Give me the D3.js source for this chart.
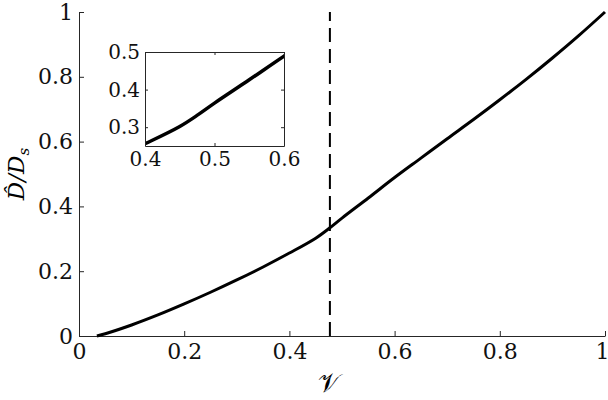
<!DOCTYPE html>
<html><head><meta charset="utf-8">
<script src="https://cdn.jsdelivr.net/npm/d3@7"></script>
<style>body{margin:0;background:#fff}</style>
</head><body>
<svg id="c" width="608" height="400"></svg>
<script>
const nu = [0.034,0.05,0.1,0.15,0.2,0.25,0.3,0.35,0.4,0.45,0.477,0.5,0.55,0.6,0.65,0.7,0.75,0.8,0.85,0.9,0.95,1.0];
const ratio = [0,0.007,0.034,0.065,0.099,0.135,0.173,0.213,0.256,0.302,0.334,0.364,0.426,0.489,0.549,0.609,0.668,0.729,0.792,0.858,0.927,1.0];
const critical = 0.477;
const xTicks = [0,0.2,0.4,0.6,0.8,1];
const yTicks = [0,0.2,0.4,0.6,0.8,1];
const insetXTicks = [0.4,0.5,0.6];
const insetYTicks = [0.3,0.4,0.5];

const svg = d3.select("#c");
const font = "DejaVu Serif";
const axCol = "#262626";
const x = d3.scaleLinear().domain([0,1]).range([79,605]);
const y = d3.scaleLinear().domain([0,1]).range([336,12]);

const fmt = d => d===0?"0":d===1?"1":d3.format(".1f")(d);

const gx = svg.append("g").attr("transform","translate(0,336)")
  .call(d3.axisBottom(x).tickValues(xTicks).tickFormat(fmt).tickSizeInner(-5).tickSizeOuter(0).tickPadding(7));
const gy = svg.append("g").attr("transform","translate(79,0)")
  .call(d3.axisLeft(y).tickValues(yTicks).tickFormat(fmt).tickSizeInner(-5).tickSizeOuter(0).tickPadding(6));
[gx,gy].forEach(g=>{
  g.attr("font-family",font).attr("font-size",22);
  g.select(".domain").attr("stroke",axCol).attr("stroke-width",1);
  g.selectAll(".tick line").attr("stroke",axCol);
  g.selectAll(".tick text").attr("fill","#111");
});
gx.selectAll(".tick text").filter(d=>d===1).attr("dx",-3);

const line = d3.line().x((d,i)=>x(nu[i])).y(d=>y(d)).curve(d3.curveCatmullRom.alpha(0.5));
svg.append("path").datum(ratio).attr("d",line).attr("fill","none").attr("stroke","#000").attr("stroke-width",3);

svg.append("line").attr("x1",x(critical)).attr("x2",x(critical)).attr("y1",y(0)).attr("y2",y(1))
  .attr("stroke","#000").attr("stroke-width",2).attr("stroke-dasharray","14,7");

// axis labels
svg.append("text").attr("x",x(0.475)).attr("y",392).attr("text-anchor","middle")
  .attr("font-family",font).attr("font-size",26).text("𝒱");
const yl = svg.append("text").attr("transform","translate(24,174) rotate(-90)").attr("text-anchor","middle")
  .attr("font-family",font).attr("font-size",23).attr("font-style","italic");
yl.append("tspan").text("D̂/D");
yl.append("tspan").attr("dy",5).attr("font-size",15).text("s");

// inset
const ix = d3.scaleLinear().domain([0.4,0.6]).range([145,284]);
const iy = d3.scaleLinear().domain([0.25,0.5]).range([146,52]);
const ins = svg.append("g");
ins.append("rect").attr("x",145).attr("y",52).attr("width",139).attr("height",94).attr("fill","#fff");
svg.append("clipPath").attr("id","ic").append("rect").attr("x",145).attr("y",52).attr("width",139).attr("height",94);
const iline = d3.line().x((d,i)=>ix(nu[i])).y(d=>iy(d)).curve(d3.curveCatmullRom.alpha(0.5));
ins.append("path").datum(ratio).attr("d",iline).attr("clip-path","url(#ic)").attr("fill","none").attr("stroke","#000").attr("stroke-width",3.5);
const ib = ins.append("g").attr("transform","translate(0,146)")
  .call(d3.axisBottom(ix).tickValues(insetXTicks).tickFormat(d3.format(".1f")).tickSizeInner(-3).tickSizeOuter(0).tickPadding(6));
const it = ins.append("g").attr("transform","translate(0,52)")
  .call(d3.axisTop(ix).tickValues(insetXTicks).tickFormat("").tickSizeInner(-3).tickSizeOuter(0));
const il = ins.append("g").attr("transform","translate(145,0)")
  .call(d3.axisLeft(iy).tickValues(insetYTicks).tickFormat(d3.format(".1f")).tickSizeInner(-3).tickSizeOuter(0).tickPadding(5));
const ir = ins.append("g").attr("transform","translate(284,0)")
  .call(d3.axisRight(iy).tickValues(insetYTicks).tickFormat("").tickSizeInner(-3).tickSizeOuter(0));
[ib,it,il,ir].forEach(g=>{
  g.attr("font-family",font).attr("font-size",20);
  g.select(".domain").attr("stroke",axCol).attr("stroke-width",1);
  g.selectAll(".tick line").attr("stroke",axCol);
  g.selectAll(".tick text").attr("fill","#111");
});
</script>
</body></html>
